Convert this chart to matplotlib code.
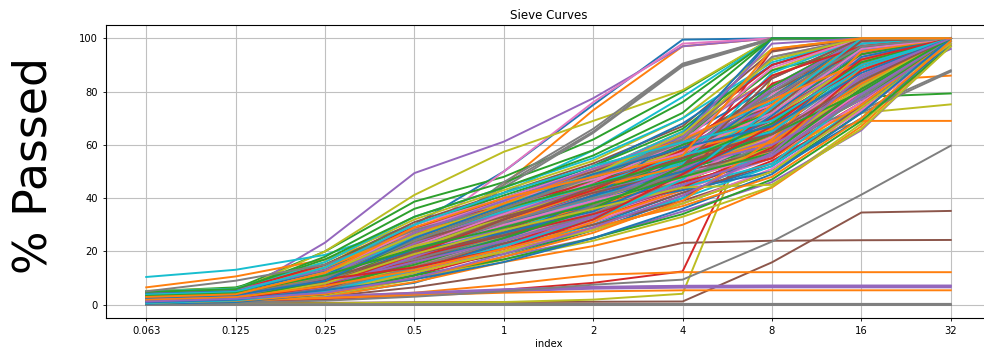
import matplotlib
matplotlib.use("Agg")
import matplotlib.pyplot as plt
import numpy as np

# sieve sizes (x categories)
sieves = ["0.063", "0.125", "0.25", "0.5", "1", "2", "4", "8", "16", "32"]

# % passed per sample, grouped by the colour they get in the default cycle
blue_curves = [
    [0.5, 1.5, 9, 30, 50, 75, 99.5, 100, 100, 100],
    [0.3, 0.8, 3.5, 8.2, 18, 28, 40, 58, 85, 100],
    [2.5, 3.5, 8, 20, 32, 44, 60, 100, 100, 100],
    [1.2, 2.2, 6, 15, 26, 37, 52, 70, 95, 100],
    [3.5, 4.5, 11, 24, 36, 47, 63, 82, 100, 100],
    [0.8, 1.6, 4.5, 12, 21, 30, 42, 52, 74, 99],
    [4.5, 5.5, 13, 28, 40, 52, 68, 90, 100, 100],
    [1.8, 2.8, 7, 17, 29, 39, 48, 62, 88, 100],
    [2.8, 3.8, 9.5, 22, 34, 46, 58, 75, 97, 100],
    [0.6, 1.2, 5, 13, 23, 33, 45, 55, 80, 100],
    [1.5, 2.5, 10, 27, 38, 45, 52, 60, 78, 100],
    [0.4, 1.0, 4, 11, 24, 38, 55, 78, 100, 100],
    [3.2, 4.2, 8, 16, 25, 40, 64, 100, 100, 100],
    [2.2, 3.0, 6.5, 19, 31, 37, 43, 50, 70, 98],
    [1.0, 2.0, 7.5, 21, 30, 41, 50, 65, 93, 100],
    [4.0, 5.0, 12, 20, 27, 35, 49, 71, 96, 100],
    [0.9, 1.9, 5.5, 9.5, 16, 25, 36, 49, 72, 100],
    [2.6, 3.6, 9, 25, 37, 49, 59, 67, 87, 100],
]
orange_curves = [
    [1.5, 3, 8, 22, 45, 73, 97, 100, 100, 100],
    [6.5, 10.6, 17, 28, 38, 50, 65, 85, 100, 100],
    [0.5, 1.2, 3, 8.5, 16, 22, 30, 44, 67, 98],
    [1, 2, 3, 4.5, 7.5, 11.2, 12.2, 12.2, 12.2, 12.2],
    [0.8, 1.5, 2.5, 3.5, 4.5, 5.0, 5.4, 5.4, 5.4, 5.4],
    [2.2, 3.2, 7.5, 16, 27, 36, 47, 58, 69, 69],
    [3, 4, 9, 19, 30, 41, 53, 70, 84, 86],
    [4, 5, 12, 25, 35, 45, 57, 72, 90, 100],
    [2, 3, 6.5, 15, 25, 34, 50, 68, 92, 100],
    [3.8, 5, 11, 23, 33, 42, 55, 64, 78, 100],
    [1.4, 2.4, 5.5, 14, 24, 32, 43, 60, 82, 100],
    [3.2, 4.2, 9.5, 21, 29, 37, 46, 55, 75, 100],
    [1.0, 2.0, 5, 12, 20, 31, 48, 75, 100, 100],
    [4.6, 5.6, 14, 27, 36, 44, 52, 61, 83, 100],
    [2.4, 3.4, 8, 20, 31, 43, 58, 66, 88, 100],
    [0.7, 1.4, 4, 10, 18, 27, 39, 62, 95, 100],
    [3.6, 4.6, 10, 24, 38, 51, 62, 77, 91, 100],
    [1.8, 2.8, 7, 13, 21, 29, 37, 48, 70, 99],
    [2.9, 3.9, 12, 29, 40, 48, 56, 96, 100, 100],
]
green_curves = [
    [4.5, 6, 20, 38.7, 48, 62, 80, 100, 100, 100],
    [4, 5.5, 18, 36, 46, 58, 76, 100, 100, 100],
    [2.5, 3.5, 8, 18, 30, 40, 55, 68, 78, 79.3],
    [1, 2, 5, 13, 19, 28, 38, 50, 72, 100],
    [3, 4, 10, 23, 35, 44, 56, 76, 100, 100],
    [2, 3, 7.5, 18, 28, 37, 49, 66, 90, 100],
    [5, 6.5, 15, 30, 41, 52, 66, 92, 100, 100],
    [1.5, 2.5, 6, 14, 24, 34, 46, 60, 85, 100],
    [3.5, 4.5, 12, 26, 37, 48, 61, 80, 96, 100],
    [2.8, 4, 9, 21, 33, 45, 62, 88, 96, 100],
    [1.2, 2.2, 6, 16, 26, 39, 57, 82, 100, 100],
    [3.8, 4.8, 13, 27, 36, 43, 51, 59, 77, 100],
    [2.2, 3.2, 8.5, 22, 34, 47, 60, 72, 94, 100],
    [0.6, 1.6, 4, 11, 17, 25, 34, 47, 69, 97],
    [4.8, 5.8, 17, 33, 44, 56, 72, 100, 100, 100],
    [2.6, 3.6, 7, 15, 25, 36, 52, 64, 80, 100],
    [1.6, 2.6, 9, 24, 36, 45, 54, 68, 91, 100],
    [3.3, 4.3, 11, 21, 29, 38, 48, 57, 81, 100],
]
red_curves = [
    [0.5, 1, 2, 3.5, 5.6, 8.2, 12.5, 82.4, 96, 100],
    [2, 3, 7, 17, 28, 38, 50, 95.5, 100, 100],
    [3, 4, 9, 20, 31, 42, 54, 66, 92, 100],
    [1.2, 2.2, 5, 13, 23, 32, 44, 56, 76, 100],
    [4, 5, 13, 27, 38, 49, 62, 78, 95, 100],
    [2.5, 3.5, 8, 19, 30, 40, 52, 62, 83, 100],
    [0.7, 1.5, 4, 11, 20, 29, 41, 54, 73, 97],
    [3.3, 4.3, 10, 22, 32, 43, 57, 74, 100, 100],
    [1.8, 2.8, 6.5, 16, 27, 36, 47, 83, 94, 100],
    [2.2, 3.2, 10, 25, 35, 44, 53, 63, 86, 100],
    [0.9, 1.9, 5.5, 13, 22, 35, 53, 76, 99, 100],
    [3.8, 4.8, 12, 23, 33, 45, 64, 90, 100, 100],
    [1.5, 2.5, 6, 17, 29, 38, 46, 55, 80, 100],
    [4.4, 5.4, 15, 29, 37, 46, 55, 70, 89, 100],
    [2.8, 3.8, 8.5, 18, 26, 34, 44, 59, 88, 100],
    [1.1, 2.1, 7, 19, 32, 43, 58, 86, 97, 100],
    [3.0, 4.0, 9.5, 14, 21, 32, 49, 67, 92, 100],
]
purple_curves = [
    [2, 3.5, 23.3, 49.4, 61.2, 77.5, 97, 100, 100, 100],
    [1.5, 2, 3, 4, 5.5, 6.5, 6.9, 7, 7, 7],
    [1.2, 1.8, 2.6, 3.6, 5, 6, 6.4, 6.5, 6.5, 6.5],
    [1.8, 2.4, 3.2, 4.5, 5.8, 6.7, 7.1, 7.2, 7.2, 7.2],
    [1, 1.8, 4, 10, 18, 25, 35, 46, 65.5, 97.4],
    [3, 4, 10, 22, 33, 44, 58, 77, 98, 100],
    [2, 3, 7, 17, 27, 37, 50, 63, 88, 100],
    [4.2, 5.2, 14, 29, 39, 50, 64, 85, 100, 100],
    [2.6, 3.6, 8.5, 20, 31, 41, 53, 70, 93, 100],
    [1.4, 2.4, 5.5, 14, 25, 35, 47, 59, 81, 96],
    [3.5, 4.5, 11, 25, 36, 48, 60, 74, 95, 100],
    [0.8, 1.6, 5, 12, 22, 33, 46, 68, 92, 100],
    [2.3, 3.3, 9, 23, 35, 42, 51, 62, 85, 100],
    [4.6, 5.6, 13, 26, 34, 44, 57, 81, 100, 100],
    [1.6, 2.6, 6.5, 18, 29, 39, 52, 60, 77, 98],
    [3.0, 4.0, 8, 16, 24, 33, 45, 56, 79, 100],
    [2.0, 3.0, 10, 27, 39, 51, 63, 98, 100, 100],
    [1.2, 2.2, 4.5, 10, 19, 29, 41, 57, 86, 100],
]
brown_curves = [
    [0.5, 1.5, 3, 6.5, 11.5, 15.8, 23.2, 24, 24.2, 24.3],
    [0.3, 0.5, 0.7, 0.9, 1, 1.1, 1.2, 15.9, 34.6, 35.2],
    [2.4, 3.4, 8, 18, 29, 39, 51, 64, 86, 100],
    [3.6, 4.6, 11, 24, 35, 46, 59, 76, 98, 100],
    [1.6, 2.6, 6, 15, 25, 33, 45, 57, 79, 100],
    [4.8, 5.8, 15, 31, 42, 53, 67, 95, 100, 100],
    [2, 3, 7.5, 18.5, 29, 40, 54, 72, 91, 100],
    [1, 2, 4.5, 12.5, 22, 31, 42, 53, 74, 99],
    [2.8, 3.8, 9.5, 21, 30, 41, 56, 69, 90, 100],
    [1.3, 2.3, 5, 14, 23, 30, 39, 50, 75, 100],
    [4.2, 5.2, 13, 28, 40, 50, 61, 80, 97, 100],
    [3.0, 4.0, 7, 17, 28, 40, 53, 65, 82, 100],
    [0.8, 1.7, 6, 16, 27, 37, 49, 73, 99, 100],
    [2.2, 3.2, 11, 24, 33, 42, 50, 58, 81, 100],
    [3.8, 4.8, 10, 19, 26, 36, 52, 85, 100, 100],
    [1.8, 2.8, 8, 20, 32, 44, 55, 64, 84, 100],
]
pink_curves = [
    [1, 2, 7, 25, 50, 76, 98, 100, 100, 100],
    [3, 4, 10, 22, 34, 45, 60, 79, 100, 100],
    [2, 3, 7, 17, 27, 38, 52, 66, 90, 100],
    [4, 5, 13, 27, 38, 48, 62, 93, 100, 100],
    [1.4, 2.4, 5.5, 14, 24, 33, 44, 58, 80, 100],
    [2.7, 3.7, 9, 20.5, 32, 43, 56, 71, 94, 100],
    [3.6, 4.6, 12, 25, 36, 47, 58, 68, 86, 100],
    [0.9, 1.9, 4.8, 12, 22, 31, 43, 55, 76, 98],
    [3.2, 4.2, 11, 24, 35, 44, 54, 61, 83, 100],
    [1.1, 2.1, 6.5, 18, 28, 40, 55, 82, 100, 100],
    [4.4, 5.4, 14, 30, 40, 51, 63, 75, 93, 100],
    [2.3, 3.3, 8, 15, 24, 35, 48, 63, 87, 100],
    [0.7, 1.7, 5, 13, 21, 28, 38, 51, 73, 97],
    [3.5, 4.5, 9.5, 22, 34, 46, 61, 89, 100, 100],
    [1.9, 2.9, 7.5, 19, 30, 39, 47, 57, 80, 100],
    [2.9, 3.9, 12, 28, 39, 47, 57, 72, 96, 100],
]
gray_curves = [
    [1, 2, 6, 20, 45, 65, 90, 100, 100, 100],
    [1.2, 2.2, 6.5, 21, 46, 66, 90.5, 100, 100, 100],
    [0.8, 1.8, 5.5, 19, 44, 64.5, 89.5, 99.5, 100, 100],
    [0, 0, 0, 0, 0, 0, 0, 0, 0, 0],
    [0.2, 0.2, 0.2, 0.2, 0.3, 0.3, 0.3, 0.3, 0.3, 0.3],
    [0.3, 0.8, 1.5, 3, 5, 7.5, 9.4, 23.7, 41.3, 59.7],
    [2.5, 3.5, 8.5, 19, 30, 40, 51, 62, 72, 87.5],
    [2.7, 3.7, 9, 19.5, 31, 41, 52, 63, 73, 88],
    [3.4, 4.4, 10, 23, 34, 45, 58, 74, 96, 100],
    [1.8, 2.8, 6.5, 16, 26, 36, 48, 60, 84, 100],
    [2.2, 3.2, 8, 21, 32, 43, 55, 68, 91, 100],
    [4.2, 5.2, 12, 25, 35, 45, 57, 80, 100, 100],
    [1.2, 2.2, 5.5, 14, 24, 34, 47, 61, 83, 100],
    [3.0, 4.0, 9.5, 17, 26, 37, 50, 65, 88, 100],
    [0.9, 1.9, 7, 20, 31, 40, 49, 56, 78, 100],
    [5.0, 9.0, 15, 28, 37, 48, 61, 78, 97, 100],
    [2.6, 3.6, 10, 24, 36, 48, 62, 93, 100, 100],
]
olive_curves = [
    [3, 5, 20, 41.2, 57.4, 69, 80.5, 100, 100, 100],
    [0.1, 0.3, 0.5, 0.8, 1, 1.9, 4.1, 86, 98, 100],
    [2, 3, 7, 17, 27, 36, 47, 57, 72, 75.2],
    [0.6, 1.4, 3.5, 9.5, 17, 24, 33, 44.3, 68, 99],
    [4, 5, 13, 27, 38, 49, 63, 88, 100, 100],
    [2.4, 3.4, 8, 19, 30, 41, 53, 67, 90, 100],
    [3.2, 4.2, 10.5, 23, 33, 44, 57, 73, 97, 100],
    [1.6, 2.6, 6, 15, 26, 35, 46, 61, 84, 100],
    [5.2, 6, 16, 32, 43, 54, 70, 96, 100, 100],
    [2.8, 3.8, 9, 20, 29, 39, 51, 63, 86, 100],
    [1.2, 2.2, 5.5, 15, 26, 38, 54, 78, 100, 100],
    [4.4, 5.4, 14, 28, 38, 47, 58, 70, 92, 100],
    [2.0, 3.0, 7.5, 21, 33, 44, 56, 66, 88, 100],
    [3.6, 4.6, 11, 22, 30, 38, 47, 59, 82, 100],
    [0.8, 1.8, 4.5, 12, 20, 28, 38, 50, 74, 98],
    [1.6, 2.6, 8, 19, 28, 36, 44, 45, 66, 97],
    [3.0, 4.0, 12, 26, 37, 49, 64, 92, 100, 100],
]
cyan_curves = [
    [10.4, 13.1, 18.7, 30, 42, 58, 78, 100, 100, 100],
    [3, 4, 11, 24, 36, 47, 60, 73, 100, 100],
    [2, 3, 7.5, 18, 28, 38, 48, 80, 100, 100],
    [4.2, 5.2, 14, 28, 39, 50, 65, 90, 100, 100],
    [1.3, 2.3, 5.5, 14, 24, 33, 45, 57, 80, 100],
    [2.6, 3.6, 9, 20, 32, 42, 55, 68, 92, 100],
    [3.6, 4.6, 12, 26, 37, 46, 57, 70, 88, 100],
    [0.8, 1.8, 4.5, 12, 21, 30, 40, 52, 75, 99],
    [5, 6, 16, 33, 44, 55, 70, 91, 100, 100],
    [2.3, 3.3, 9.5, 22, 31, 40, 50, 62, 84, 100],
    [4.0, 5.0, 13, 27, 38, 49, 62, 76, 98, 100],
    [1.1, 2.1, 6, 16, 27, 39, 54, 72, 96, 100],
    [3.2, 4.2, 8.5, 19, 29, 40, 53, 87, 100, 100],
    [1.8, 2.8, 7, 18, 26, 34, 44, 53, 79, 100],
    [2.8, 3.8, 11, 25, 35, 45, 56, 65, 89, 100],
    [0.6, 1.6, 5, 13, 22, 32, 47, 74, 100, 100],
    [3.8, 4.8, 14, 30, 42, 52, 61, 69, 90, 100],
]

groups = [blue_curves, orange_curves, green_curves, red_curves, purple_curves,
          brown_curves, pink_curves, gray_curves, olive_curves, cyan_curves]
colors = plt.rcParams["axes.prop_cycle"].by_key()["color"]

fig = plt.figure(figsize=(9.84, 3.51), dpi=100)
ax = fig.add_axes([106 / 984, 33 / 351, 885 / 984, 293 / 351])

x = np.arange(len(sieves))
# draw in the same order pandas would (colour cycle round robin)
for i in range(max(len(g) for g in groups)):
    for c, g in enumerate(groups):
        if i < len(g):
            ax.plot(x, g[i], color=colors[c], lw=1.4)

ax.set_xticks(x)
ax.set_xticklabels(sieves)
ax.set_xlim(-0.45, 9.45)
ax.set_ylim(-5, 105)
ax.grid(True, color="#c0c0c0", lw=0.8)
ax.tick_params(labelsize=7.2, length=2.5, width=0.6)
for s in ax.spines.values():
    s.set_linewidth(0.8)
ax.set_title("Sieve Curves", fontsize=8.6, pad=4)
ax.set_xlabel("index", fontsize=7.2, labelpad=2)
fig.text(34 / 984, 1 - 166 / 351, "% Passed", rotation=90, fontsize=33,
         ha="center", va="center")

fig.savefig("out.png", dpi=100)
